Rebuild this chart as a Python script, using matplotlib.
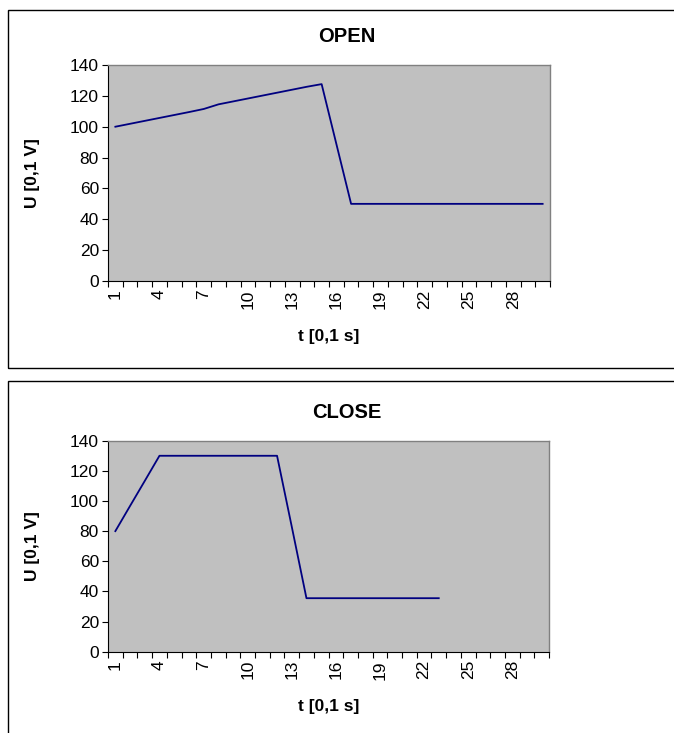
"""Two Excel-style voltage charts: OPEN and CLOSE."""

import matplotlib
matplotlib.use("Agg")
import matplotlib.pyplot as plt
from matplotlib.patches import Rectangle

# data
categories = list(range(1, 31))
open_values = [100, 101.9, 103.8, 105.7, 107.6, 109.5, 111.5, 114.5, 116.4, 118.3,
               120.2, 122.1, 124, 125.9, 127.6, 88.8, 50, 50, 50, 50,
               50, 50, 50, 50, 50, 50, 50, 50, 50, 50]
close_values = [80, 96.7, 113.3, 130, 130, 130, 130, 130, 130, 130,
                130, 130, 83, 35.5, 35.5, 35.5, 35.5, 35.5, 35.5, 35.5,
                35.5, 35.5, 35.5]
tick_labels = [1, 4, 7, 10, 13, 16, 19, 22, 25, 28]
y_ticks = [0, 20, 40, 60, 80, 100, 120, 140]

W, H = 674, 733
FONT = "Liberation Sans"
plt.rcParams["font.family"] = [FONT, "DejaVu Sans"]

fig = plt.figure(figsize=(W / 100, H / 100), dpi=100)


def fx(px):
    return px / W


def fy(py):
    return 1 - py / H


def box(x0, y0, x1, y1):
    fig.add_artist(Rectangle((fx(x0), fy(y1)), fx(x1) - fx(x0), fy(y0) - fy(y1),
                             transform=fig.transFigure, fill=False,
                             edgecolor="black", linewidth=1.0))


def chart(values, title, frame, plot):
    x0, y0, x1, y1 = frame
    box(x0, y0, x1, y1)
    px0, py0, px1, py1 = plot
    ax = fig.add_axes([fx(px0), fy(py1), fx(px1) - fx(px0), fy(py0) - fy(py1)])
    ax.set_facecolor("#C0C0C0")
    ax.plot(categories[:len(values)], values, color="#000080", linewidth=1.3)
    ax.set_xlim(0.5, 30.5)
    ax.set_ylim(0, 140)

    # category boundaries get tick marks, labels sit at every 3rd category
    ax.set_xticks([c - 0.5 for c in categories] + [30.5])
    ax.set_xticklabels([])
    ax.set_xticks(tick_labels, minor=True)
    ax.set_xticklabels([str(t) for t in tick_labels], minor=True, rotation=90,
                       fontsize=12.5, va="top", ha="center")
    ax.tick_params(axis="x", which="major", direction="out", length=4.5, width=0.8)
    ax.tick_params(axis="x", which="minor", length=0, pad=6)
    ax.set_yticks(y_ticks)
    ax.set_yticklabels([str(t) for t in y_ticks], fontsize=12.5)
    ax.tick_params(axis="y", direction="out", length=4.5, width=0.8, pad=2)

    for s in ("top", "right"):
        ax.spines[s].set_color("#808080")
        ax.spines[s].set_linewidth(1.0)
    for s in ("left", "bottom"):
        ax.spines[s].set_color("black")
        ax.spines[s].set_linewidth(0.8)

    cx = (x0 + x1) / 2
    fig.text(fx(cx), fy(py0 - 28), title, ha="center", va="center",
             fontsize=14.5, fontweight="bold")
    fig.text(fx(33), fy((py0 + py1) / 2), "U [0,1 V]", ha="center", va="center",
             rotation=90, fontsize=12.5, fontweight="bold")
    fig.text(fx((px0 + px1) / 2), fy(py1 + 55), "t [0,1 s]", ha="center",
             va="center", fontsize=12.5, fontweight="bold")
    return ax


chart(open_values, "OPEN", (8, 10, 686, 368), (108, 65, 550, 281))
chart(close_values, "CLOSE", (8, 381, 686, 745), (108, 440.7, 549, 651.7))

fig.savefig("out.png", dpi=100)
